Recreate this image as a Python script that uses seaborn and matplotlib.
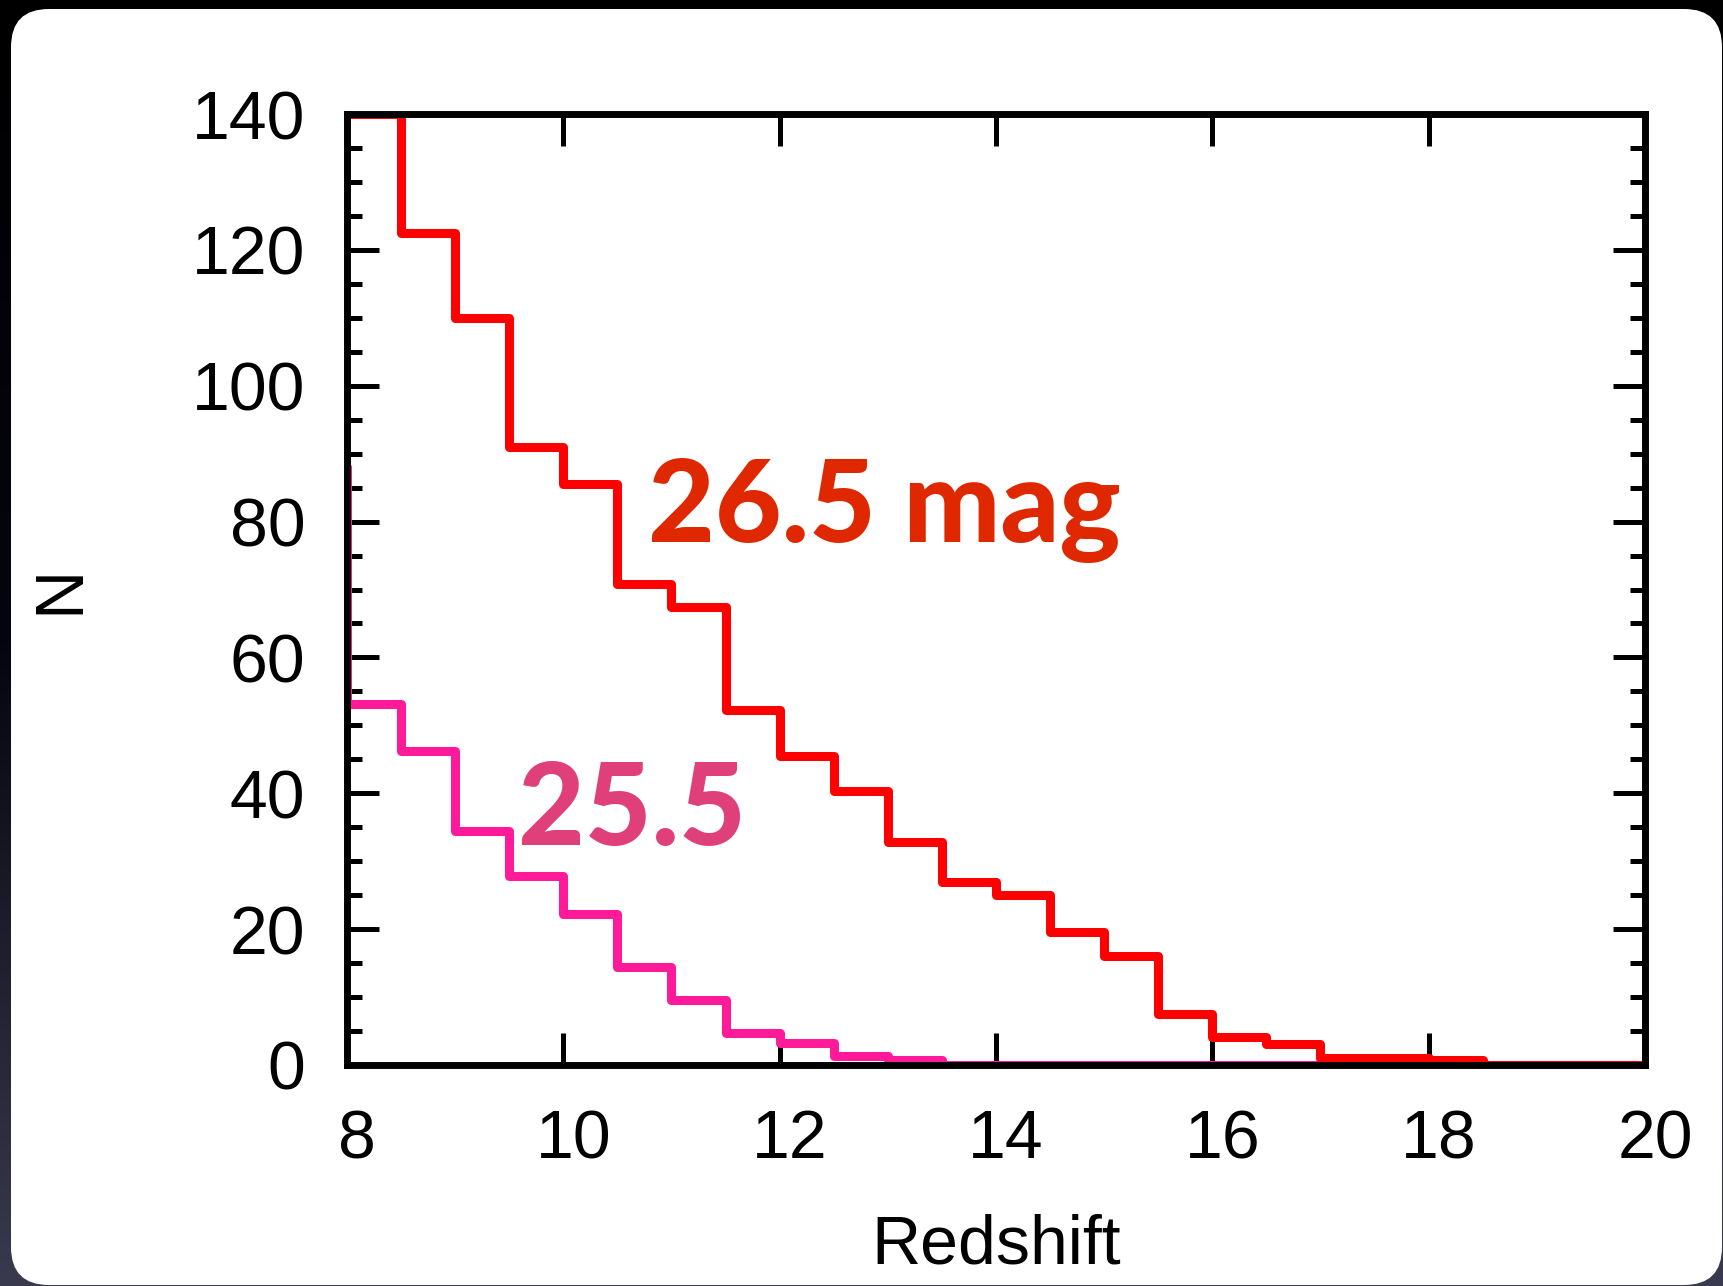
import numpy as np
import pandas as pd
import matplotlib
matplotlib.use("Agg")
import matplotlib.pyplot as plt
import matplotlib.transforms as mtransforms
from matplotlib.patches import FancyBboxPatch
from matplotlib.ticker import MultipleLocator
import seaborn as sns

# ---- data (bin edges 0.5 wide, first bin 7.5-8 lies just outside the x-range) ----
bin_edges = [7.5, 8.0, 8.5, 9.0, 9.5, 10.0, 10.5, 11.0, 11.5, 12.0, 12.5, 13.0, 13.5,
             14.0, 14.5, 15.0, 15.5, 16.0, 16.5, 17.0, 17.5, 18.0, 18.5, 19.0, 19.5, 20.0]
counts_265 = [140, 140, 122.5, 110, 91, 85.5, 70.8, 67.4, 52.2, 45.5, 40.4, 32.9,
              27.0, 25.0, 19.6, 16.1, 7.5, 4.1, 3.1, 1.1, 1.1, 0.8, 0, 0, 0]
counts_255 = [88, 53.2, 46.2, 34.5, 27.8, 22.3, 14.4, 9.6, 4.75, 3.3, 1.3, 0.7,
              0, 0, 0, 0, 0, 0, 0, 0, 0, 0, 0, 0, 0]
label_265 = "26.5 mag"
label_255 = "25.5"
xticks = [8, 10, 12, 14, 16, 18, 20]
yticks = [0, 20, 40, 60, 80, 100, 120, 140]

centers = [(a + b) / 2 for a, b in zip(bin_edges[:-1], bin_edges[1:])]
df = pd.DataFrame({"z": centers + centers,
                   "n": counts_265 + counts_255,
                   "lim": [label_265] * len(centers) + [label_255] * len(centers)})

sns.set_theme(style="white")
plt.rcParams["font.family"] = ["Liberation Sans", "DejaVu Sans"]
plt.rcParams["text.color"] = "black"
plt.rcParams["axes.labelcolor"] = "black"
plt.rcParams["xtick.color"] = "black"
plt.rcParams["ytick.color"] = "black"

W, H, DPI = 1724, 1286, 100
fig = plt.figure(figsize=(W / DPI, H / DPI), dpi=DPI)

# background: dark gradient + white rounded panel
bg = fig.add_axes([0, 0, 1, 1])
bg.set_xlim(0, W)
bg.set_ylim(H, 0)
bg.axis("off")
grad = np.linspace(0, 1, 256).reshape(-1, 1)
cmap = matplotlib.colors.LinearSegmentedColormap.from_list("bgc", ["#000000", "#05050f", "#3a3a4e"])
bg.imshow(grad, extent=[0, W, H, 0], aspect="auto", cmap=cmap, zorder=0)
panel = FancyBboxPatch((11, 9), W - 13, H - 10,
                       boxstyle="round,pad=0,rounding_size=38",
                       facecolor="white", edgecolor="none", zorder=1)
bg.add_patch(panel)

# main axes
L, R, T, B = 347, 1645, 114, 1065
ax = fig.add_axes([L / W, 1 - B / H, (R - L) / W, (B - T) / H])
ax.set_facecolor("white")

sns.histplot(data=df[df["lim"] == label_265], x="z", weights="n", bins=bin_edges,
             element="step", fill=False, color="#FF0000", linewidth=6.5, ax=ax, zorder=3)
sns.histplot(data=df[df["lim"] == label_255], x="z", weights="n", bins=bin_edges,
             element="step", fill=False, color="#FF1A9A", linewidth=6.5, ax=ax, zorder=2)

ax.set_xlim(8, 20)
ax.set_ylim(0, 140)
ax.set_xticks(xticks)
ax.set_yticks(yticks)
ax.yaxis.set_minor_locator(MultipleLocator(5))

for sp in ax.spines.values():
    sp.set_visible(True)
    sp.set_color("black")
    sp.set_linewidth(5)
    sp.set_zorder(4)

ax.tick_params(axis="both", which="both", direction="in", top=True, right=True,
               bottom=True, left=True, color="black", labelcolor="black", labelsize=49)
ax.tick_params(axis="both", which="major", length=23, width=3.6)
ax.tick_params(axis="y", which="minor", length=11, width=3.6)
ax.tick_params(axis="y", which="major", pad=30)
ax.tick_params(axis="x", which="major", pad=31)

offset = mtransforms.ScaledTranslation(10 / DPI, 0, fig.dpi_scale_trans)
for lab in ax.get_xticklabels():
    lab.set_transform(lab.get_transform() + offset)

ax.set_xlabel("Redshift", fontsize=49, va="baseline", color="black")
ax.xaxis.set_label_coords(0.5, (B - 1263) / (B - T))
ax.set_ylabel("N", fontsize=49, va="center", color="black")
ax.yaxis.set_label_coords((60 - L) / (R - L), 0.5)

ax.text(10.78, 77.0, label_265, color="#E02800", fontsize=83,
        fontfamily=["Lato", "DejaVu Sans"], fontweight="black",
        ha="left", va="baseline", zorder=5)
ax.text(9.58, 32.4, label_255, color="#E0407A", fontsize=83,
        fontfamily=["Lato", "DejaVu Sans"], fontweight="black",
        ha="left", va="baseline", zorder=5)

fig.savefig("out.png", dpi=DPI)
